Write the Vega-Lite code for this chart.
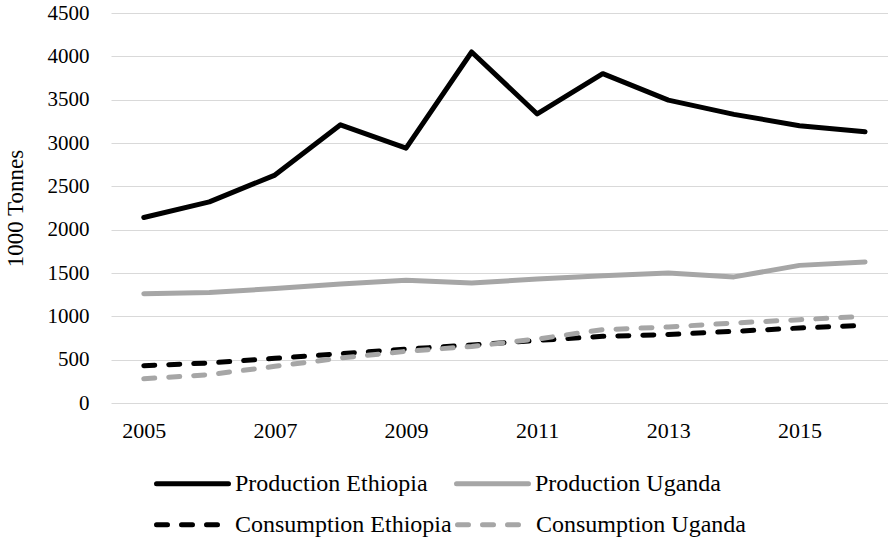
{
  "$schema": "https://vega.github.io/schema/vega-lite/v6.json",
  "width": 777,
  "height": 390,
  "autosize": {"type": "none"},
  "padding": {"left": 111, "top": 13, "right": 0, "bottom": 136},
  "background": "white",
  "config": {
    "font": "Liberation Serif",
    "view": {"stroke": null},
    "axis": {"labelFont": "Liberation Serif", "titleFont": "Liberation Serif", "labelColor": "#000", "titleColor": "#000"},
    "legend": {
      "title": null,
      "orient": "none",
      "legendX": 43,
      "columns": 2,
      "direction": "horizontal",
      "symbolType": "stroke",
      "symbolSize": 5184,
      "symbolStrokeWidth": 5,
      "labelFontSize": 24,
      "labelFont": "Liberation Serif",
      "labelColor": "#000",
      "labelOffset": 4,
      "labelLimit": 400
    }
  },
  "data": {
    "values": [
      {"year": 2005, "series": "Production Ethiopia", "value": 2140},
      {"year": 2006, "series": "Production Ethiopia", "value": 2320},
      {"year": 2007, "series": "Production Ethiopia", "value": 2630},
      {"year": 2008, "series": "Production Ethiopia", "value": 3210},
      {"year": 2009, "series": "Production Ethiopia", "value": 2940},
      {"year": 2010, "series": "Production Ethiopia", "value": 4050},
      {"year": 2011, "series": "Production Ethiopia", "value": 3335},
      {"year": 2012, "series": "Production Ethiopia", "value": 3800},
      {"year": 2013, "series": "Production Ethiopia", "value": 3495},
      {"year": 2014, "series": "Production Ethiopia", "value": 3330},
      {"year": 2015, "series": "Production Ethiopia", "value": 3200},
      {"year": 2016, "series": "Production Ethiopia", "value": 3130},
      {"year": 2005, "series": "Production Uganda", "value": 1260},
      {"year": 2006, "series": "Production Uganda", "value": 1275},
      {"year": 2007, "series": "Production Uganda", "value": 1320},
      {"year": 2008, "series": "Production Uganda", "value": 1372},
      {"year": 2009, "series": "Production Uganda", "value": 1415},
      {"year": 2010, "series": "Production Uganda", "value": 1385},
      {"year": 2011, "series": "Production Uganda", "value": 1430},
      {"year": 2012, "series": "Production Uganda", "value": 1468},
      {"year": 2013, "series": "Production Uganda", "value": 1500},
      {"year": 2014, "series": "Production Uganda", "value": 1455},
      {"year": 2015, "series": "Production Uganda", "value": 1588},
      {"year": 2016, "series": "Production Uganda", "value": 1627},
      {"year": 2005, "series": "Consumption Ethiopia", "value": 430},
      {"year": 2006, "series": "Consumption Ethiopia", "value": 462},
      {"year": 2007, "series": "Consumption Ethiopia", "value": 515},
      {"year": 2008, "series": "Consumption Ethiopia", "value": 569},
      {"year": 2009, "series": "Consumption Ethiopia", "value": 622},
      {"year": 2010, "series": "Consumption Ethiopia", "value": 670},
      {"year": 2011, "series": "Consumption Ethiopia", "value": 722},
      {"year": 2012, "series": "Consumption Ethiopia", "value": 769},
      {"year": 2013, "series": "Consumption Ethiopia", "value": 790},
      {"year": 2014, "series": "Consumption Ethiopia", "value": 827},
      {"year": 2015, "series": "Consumption Ethiopia", "value": 865},
      {"year": 2016, "series": "Consumption Ethiopia", "value": 896},
      {"year": 2005, "series": "Consumption Uganda", "value": 280},
      {"year": 2006, "series": "Consumption Uganda", "value": 327},
      {"year": 2007, "series": "Consumption Uganda", "value": 423},
      {"year": 2008, "series": "Consumption Uganda", "value": 519},
      {"year": 2009, "series": "Consumption Uganda", "value": 596},
      {"year": 2010, "series": "Consumption Uganda", "value": 653},
      {"year": 2011, "series": "Consumption Uganda", "value": 738},
      {"year": 2012, "series": "Consumption Uganda", "value": 846},
      {"year": 2013, "series": "Consumption Uganda", "value": 877},
      {"year": 2014, "series": "Consumption Uganda", "value": 923},
      {"year": 2015, "series": "Consumption Uganda", "value": 961},
      {"year": 2016, "series": "Consumption Uganda", "value": 1000}
    ]
  },
  "encoding": {
    "x": {
      "field": "year",
      "type": "quantitative",
      "scale": {"domain": [2004.5, 2016.35], "nice": false, "zero": false},
      "axis": {
        "title": null,
        "values": [2005, 2007, 2009, 2011, 2013, 2015],
        "format": "d",
        "grid": false,
        "domain": false,
        "ticks": false,
        "tickSize": 0,
        "labelPadding": 17,
        "labelFontSize": 22,
        "labelFlush": false
      }
    },
    "y": {
      "field": "value",
      "type": "quantitative",
      "scale": {"domain": [0, 4500], "nice": false},
      "axis": {
        "title": "1000 Tonnes",
        "titleFontSize": 23,
        "titleFontWeight": "normal",
        "titlePadding": 20,
        "values": [0, 500, 1000, 1500, 2000, 2500, 3000, 3500, 4000, 4500],
        "format": "d",
        "domain": false,
        "ticks": false,
        "tickSize": 0,
        "labelPadding": 22,
        "labelFontSize": 21,
        "gridColor": "#d9d9d9",
        "gridWidth": 1.2
      }
    }
  },
  "layer": [
    {
      "transform": [{"filter": "indexof(datum.series, 'Consumption') === 0"}],
      "mark": {"type": "line", "strokeWidth": 5, "strokeCap": "round", "strokeJoin": "round", "strokeDash": [11, 14]},
      "encoding": {
        "color": {
          "field": "series",
          "type": "nominal",
          "scale": {"domain": ["Consumption Ethiopia", "Consumption Uganda"], "range": ["#000000", "#a6a6a6"]},
          "legend": {
            "legendY": 473,
            "columnPadding": -5,
            "symbolDash": [11, 14],
            "encode": {"symbols": {"update": {"strokeCap": {"value": "round"}}}}
          }
        }
      }
    },
    {
      "transform": [{"filter": "indexof(datum.series, 'Production') === 0"}],
      "mark": {"type": "line", "strokeWidth": 5, "strokeCap": "round", "strokeJoin": "round"},
      "encoding": {
        "color": {
          "field": "series",
          "type": "nominal",
          "scale": {"domain": ["Production Ethiopia", "Production Uganda"], "range": ["#000000", "#a6a6a6"]},
          "legend": {
            "legendY": 432,
            "columnPadding": 18,
            "encode": {"symbols": {"update": {"strokeCap": {"value": "round"}}}}
          }
        }
      }
    }
  ],
  "resolve": {"scale": {"color": "independent"}, "legend": {"color": "independent"}}
}
